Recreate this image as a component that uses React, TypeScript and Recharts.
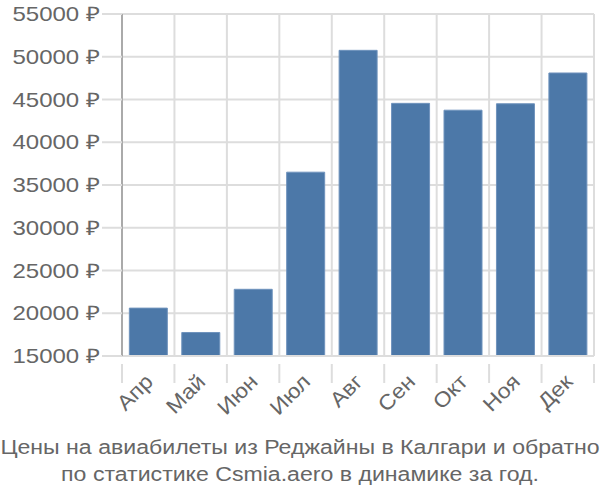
import { BarChart, Bar, XAxis, YAxis, CartesianGrid } from "recharts";

const MONTHS = ["Апр", "Май", "Июн", "Июл", "Авг", "Сен", "Окт", "Ноя", "Дек"];
const PRICES = [20600, 17750, 22800, 36500, 50750, 44550, 43750, 44500, 48100];
const Y_TICKS = [15000, 20000, 25000, 30000, 35000, 40000, 45000, 50000, 55000];
const TITLE_LINES = [
  "Цены на авиабилеты из Реджайны в Калгари и обратно",
  "по статистике Csmia.aero в динамике за год.",
];

const data = MONTHS.map((m, i) => ({ month: m, price: PRICES[i] }));

const FONT = "'Liberation Sans', Arial, sans-serif";
const TEXT = "#666";
const GRID = "#ddd";

const CHART_W = 600;
const MARGIN = { top: 14, right: 6, left: 0, bottom: 0 };
const Y_WIDTH = 122;
const PLOT_W = CHART_W - MARGIN.left - MARGIN.right - Y_WIDTH;
const BAND = PLOT_W / MONTHS.length;

function MonthTick(props: any) {
  const { x, y, payload } = props;
  const left = x - BAND / 2;
  const ax = x + 6;
  const ay = y + 19;
  return (
    <g>
      <line x1={left} y1={y} x2={left} y2={y + 19} stroke={GRID} strokeWidth={2} />
      {payload.index === MONTHS.length - 1 && (
        <line x1={x + BAND / 2} y1={y} x2={x + BAND / 2} y2={y + 19} stroke={GRID} strokeWidth={2} />
      )}
      <text
        x={0}
        y={0}
        textAnchor="end"
        fill={TEXT}
        fontSize={21}
        fontFamily={FONT}
        transform={`translate(${ax} ${ay}) rotate(-45) scale(1.1 1)`}
      >
        {payload.value}
      </text>
    </g>
  );
}

function PriceTick(props: any) {
  const { x, y, payload } = props;
  return (
    <text
      x={0}
      y={0}
      dy="0.36em"
      textAnchor="end"
      fill={TEXT}
      fontSize={20}
      fontFamily={FONT}
      transform={`translate(${x} ${y}) scale(1.2 1)`}
    >
      {`${payload.value} ₽`}
    </text>
  );
}

export default function App() {
  return (
    <div style={{ position: "absolute", left: 0, top: 0, width: 600, height: 500, background: "#fff" }}>
      <BarChart width={600} height={500} data={data} margin={MARGIN} barCategoryGap="14%">
        <CartesianGrid
          stroke={GRID}
          strokeWidth={2}
          verticalCoordinatesGenerator={({ offset }: any) =>
            MONTHS.map((_, i) => offset.left + i * (offset.width / MONTHS.length)).concat(offset.left + offset.width)
          }
        />
        <XAxis
          dataKey="month"
          height={144}
          interval={0}
          axisLine={{ stroke: GRID, strokeWidth: 2 }}
          tickLine={false}
          tick={<MonthTick />}
        />
        <YAxis
          width={Y_WIDTH}
          domain={[15000, 55000]}
          ticks={Y_TICKS}
          interval={0}
          tickSize={20}
          tickMargin={2}
          axisLine={{ stroke: "#aaa", strokeWidth: 2 }}
          tickLine={{ stroke: GRID, strokeWidth: 2 }}
          tick={<PriceTick />}
        />
        <Bar dataKey="price" fill="#4C78A8" stroke="#6f93bd" strokeWidth={1} isAnimationActive={false} />
      </BarChart>
      <div
        style={{
          position: "absolute",
          left: 0,
          top: 434,
          width: 600,
          textAlign: "center",
          fontFamily: FONT,
          fontSize: 20,
          lineHeight: "27px",
          color: TEXT,
          transform: "scaleX(1.155)",
          transformOrigin: "300px 0",
        }}
      >
        {TITLE_LINES.map((l) => (
          <div key={l} style={{ whiteSpace: "nowrap" }}>{l}</div>
        ))}
      </div>
    </div>
  );
}
